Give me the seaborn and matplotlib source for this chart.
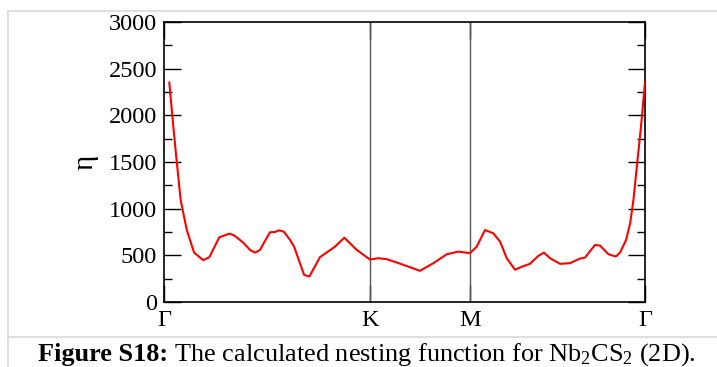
import numpy as np
import pandas as pd
import matplotlib
matplotlib.use("Agg")
import matplotlib.pyplot as plt
from matplotlib.lines import Line2D
from matplotlib.ticker import MultipleLocator
import seaborn as sns

# High-symmetry path Γ -> K -> M -> Γ (path length coordinate)
k_labels = ["Γ", "K", "M", "Γ"]
k_ticks = [0.0, 1.013, 1.505, 2.366]

# Nesting function η(k) along the path
k_path = [0.026, 0.046, 0.062, 0.082, 0.112, 0.148, 0.193, 0.223, 0.272, 0.321,
          0.344, 0.390, 0.423, 0.448, 0.472, 0.521, 0.546, 0.567, 0.590, 0.620,
          0.640, 0.689, 0.715, 0.767, 0.841, 0.887, 0.948, 1.013,
          1.054, 1.095, 1.145, 1.210, 1.259, 1.325, 1.391, 1.448, 1.505,
          1.538, 1.579, 1.620, 1.653, 1.686, 1.727, 1.760, 1.800, 1.841,
          1.869, 1.899, 1.948, 1.997, 2.046, 2.071, 2.120, 2.145, 2.186,
          2.222, 2.243, 2.273, 2.293, 2.309, 2.329, 2.346, 2.366]
eta = [2354, 1874, 1518, 1092, 771, 529, 448, 480, 693, 732,
       715, 636, 558, 529, 558, 747, 750, 768, 753, 665,
       593, 291, 273, 480, 593, 689, 558, 455,
       469, 459, 423, 373, 334, 416, 512, 540, 523,
       593, 771, 736, 647, 469, 345, 378, 409, 494,
       529, 469, 409, 416, 465, 476, 611, 604, 512,
       487, 529, 665, 843, 1092, 1518, 1874, 2354]

df = pd.DataFrame({"k": k_path, "eta": eta})

sns.set_theme(style="white")
plt.rcParams["font.family"] = ["Liberation Serif", "DejaVu Serif"]
plt.rcParams["mathtext.fontset"] = "custom"
plt.rcParams["mathtext.rm"] = "Liberation Serif"
plt.rcParams["mathtext.it"] = "Liberation Serif:italic"
plt.rcParams["mathtext.bf"] = "Liberation Serif:bold"

fig = plt.figure(figsize=(7.17, 3.67), dpi=100)
ax = fig.add_axes([164 / 717, 65 / 367, 481 / 717, 280 / 367])

# High-symmetry separators
for kv in k_ticks[1:3]:
    ax.axvline(kv, color="#555555", lw=1.0, zorder=1)

sns.lineplot(data=df, x="k", y="eta", color="red", lw=1.5, ax=ax,
             sort=False, zorder=3)

ax.set_xlim(k_ticks[0], k_ticks[-1])
ax.set_ylim(0, 3000)
ax.set_xticks(k_ticks)
ax.set_xticklabels(k_labels)
ax.yaxis.set_major_locator(MultipleLocator(500))
ax.yaxis.set_minor_locator(MultipleLocator(250))

ax.tick_params(axis="y", which="major", direction="in", length=12, width=1.0,
               left=True, right=True, labelsize=17.5, pad=5, color="black",
               labelcolor="black")
ax.tick_params(axis="y", which="minor", direction="in", length=6, width=1.0,
               left=True, right=True, color="black")
ax.tick_params(axis="x", which="major", direction="in", length=12, width=1.0,
               bottom=True, top=True, labelsize=17.5, pad=6, color="black",
               labelcolor="black")

for sp in ax.spines.values():
    sp.set_visible(True)
    sp.set_color("black")
    sp.set_linewidth(1.2)

ax.set_xlabel("")
ax.set_ylabel("η", fontsize=21, color="black")
ax.yaxis.set_label_coords(-0.137, 0.5)

# Caption: bold lead-in followed by regular text, centred as one line
cap_y = (367 - 360.8) / 367
cap_fs = 18.9
t_bold = fig.text(0, cap_y, "Figure S18:", fontsize=cap_fs, fontweight="bold",
                  ha="left", va="baseline", color="black")
t_rest = fig.text(0, cap_y, " The calculated nesting function for Nb$_2$CS$_2$ (2D).",
                  fontsize=cap_fs, ha="left", va="baseline", color="black")
fig.canvas.draw()
renderer = fig.canvas.get_renderer()
w_bold = t_bold.get_window_extent(renderer).width
w_rest = t_rest.get_window_extent(renderer).width
fig_w = fig.get_figwidth() * fig.dpi
x0 = 367 - (w_bold + w_rest) / 2
t_bold.set_x(x0 / fig_w)
t_rest.set_x((x0 + w_bold) / fig_w)

# Surrounding frame lines
frame_c = "#d9d9d9"
fig.add_artist(Line2D([8 / 717, 1.0], [1 - 11 / 367, 1 - 11 / 367],
                      transform=fig.transFigure, color=frame_c, lw=1.2))
fig.add_artist(Line2D([8 / 717, 8 / 717], [0.0, 1 - 11 / 367],
                      transform=fig.transFigure, color=frame_c, lw=1.2))
fig.add_artist(Line2D([8 / 717, 1.0], [1 - 337 / 367, 1 - 337 / 367],
                      transform=fig.transFigure, color=frame_c, lw=1.2))

fig.savefig("out.png", dpi=100)
